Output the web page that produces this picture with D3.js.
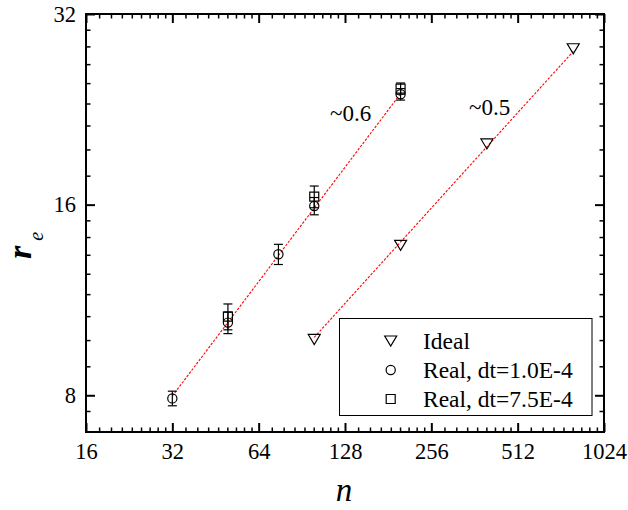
<!DOCTYPE html>
<html>
<head>
<meta charset="utf-8">
<script src="https://cdn.jsdelivr.net/npm/d3@7"></script>
<style>
  html, body { margin: 0; padding: 0; background: #fff; }
  svg { display: block; }
  svg text { font-family: "Liberation Serif", "Times New Roman", "DejaVu Serif", serif; fill: #000; }
</style>
</head>
<body>
<svg id="chart" width="628" height="510"></svg>
<script>
// Chain size n vs. end-to-end distance r_e (log2 axes)
const xTickValues = [16, 32, 64, 128, 256, 512, 1024];
const yTickValues = [8, 16, 32];

const nIdeal = [100, 200, 400, 800];
const rIdeal = [9.8, 13.8, 19.95, 28.2];

const nReal1 = [32, 50, 75, 100, 200];
const rReal1 = [7.91, 10.42, 13.36, 15.92, 23.9];
const errReal1 = [0.21, 0.41, 0.49, 0.5, 0.5];

const nReal2 = [50, 100, 200];
const rReal2 = [10.65, 16.47, 24.4];
const errReal2 = [0.5, 0.65, 0.5];

// Power-law guide lines: fixed exponent, prefactor fitted to a series
const fitExponents = [0.6, 0.5];
const fitLabels = ["~0.6", "~0.5"];

const legendNames = ["Ideal", "Real, dt=1.0E-4", "Real, dt=7.5E-4"];

const SERIF = "Liberation Serif, Times New Roman, DejaVu Serif, serif";

const svg = d3.select("#chart");
const L = 86, R = 604, T = 14, B = 432;

const x = d3.scaleLog().base(2).domain([16, 1024]).range([L, R]);
const y = d3.scaleLog().base(2).domain([7, 32]).range([B, T]);

// minor ticks: 8 evenly spaced values inside every octave
function minorTicks(lo, hi) {
  const out = [];
  for (let a = 1; a <= 2048; a *= 2) {
    for (let k = 1; k <= 8; k++) {
      const v = a + a * k / 9;
      if (v > lo && v < hi) out.push(v);
    }
  }
  return out;
}
const xMinor = minorTicks(16, 1024);
const yMinor = minorTicks(7, 32).filter(v => Math.abs(y(v) - B) > 5 && Math.abs(y(v) - T) > 5);

const fmt = d => String(d);

// axes on all four sides, ticks pointing inward
function axisGroup(axis, tx, ty) {
  const g = svg.append("g").attr("transform", `translate(${tx},${ty})`).call(axis);
  g.attr("font-family", SERIF);
  g.select(".domain").remove();
  g.selectAll("line").attr("stroke", "#000");
  return g;
}

// bottom
const gxB = axisGroup(d3.axisBottom(x).tickValues(xTickValues).tickFormat(fmt).tickSizeInner(-9).tickSizeOuter(0).tickPadding(11.5), 0, B);
gxB.selectAll("line").attr("stroke-width", 2);
gxB.selectAll("text").attr("font-size", 22.5).attr("font-family", SERIF);
const gxBm = axisGroup(d3.axisBottom(x).tickValues(xMinor).tickFormat("").tickSizeInner(-4.5).tickSizeOuter(0), 0, B);
gxBm.selectAll("line").attr("stroke-width", 1.5);

// top
const gxT = axisGroup(d3.axisTop(x).tickValues(xTickValues).tickFormat("").tickSizeInner(-9).tickSizeOuter(0), 0, T);
gxT.selectAll("line").attr("stroke-width", 2);
const gxTm = axisGroup(d3.axisTop(x).tickValues(xMinor).tickFormat("").tickSizeInner(-4.5).tickSizeOuter(0), 0, T);
gxTm.selectAll("line").attr("stroke-width", 1.5);

// left
const gyL = axisGroup(d3.axisLeft(y).tickValues(yTickValues).tickFormat(fmt).tickSizeInner(-9).tickSizeOuter(0).tickPadding(10), L, 0);
gyL.selectAll("line").attr("stroke-width", 2);
gyL.selectAll("text").attr("font-size", 22.5).attr("font-family", SERIF);
const gyLm = axisGroup(d3.axisLeft(y).tickValues(yMinor).tickFormat("").tickSizeInner(-4.5).tickSizeOuter(0), L, 0);
gyLm.selectAll("line").attr("stroke-width", 1.5);

// right
const gyR = axisGroup(d3.axisRight(y).tickValues(yTickValues).tickFormat("").tickSizeInner(-9).tickSizeOuter(0), R, 0);
gyR.selectAll("line").attr("stroke-width", 2);
const gyRm = axisGroup(d3.axisRight(y).tickValues(yMinor).tickFormat("").tickSizeInner(-4.5).tickSizeOuter(0), R, 0);
gyRm.selectAll("line").attr("stroke-width", 1.5);

// frame
svg.append("rect")
  .attr("x", L).attr("y", T).attr("width", R - L).attr("height", B - T)
  .attr("fill", "none").attr("stroke", "#000").attr("stroke-width", 2);

// fitted prefactor for a fixed exponent (least squares in log space)
function prefactor(ns, rs, p) {
  const m = d3.mean(ns.map((n, i) => Math.log(rs[i]) - p * Math.log(n)));
  return Math.exp(m);
}
const fits = [
  { p: fitExponents[0], c: prefactor(nReal1, rReal1, fitExponents[0]), n0: d3.min(nReal1), n1: d3.max(nReal1) },
  { p: fitExponents[1], c: prefactor(nIdeal, rIdeal, fitExponents[1]), n0: d3.min(nIdeal), n1: d3.max(nIdeal) }
];
const line = d3.line().x(d => x(d[0])).y(d => y(d[1]));
fits.forEach(f => {
  svg.append("path")
    .attr("d", line([[f.n0, f.c * Math.pow(f.n0, f.p)], [f.n1, f.c * Math.pow(f.n1, f.p)]]))
    .attr("fill", "none").attr("stroke", "#ff0000").attr("stroke-width", 1.1)
    .attr("stroke-dasharray", "2.5,1.5");
});

// exponent annotations
svg.append("text").attr("x", 330).attr("y", 121).attr("font-size", 23).attr("font-family", SERIF).text(fitLabels[0]);
svg.append("text").attr("x", 469).attr("y", 115).attr("font-size", 23).attr("font-family", SERIF).text(fitLabels[1]);

// symbols
const sym = {
  tri: d3.symbol().type({ draw(ctx) { ctx.moveTo(-6, -5); ctx.lineTo(6, -5); ctx.lineTo(0, 5); ctx.closePath(); } })(),
  circle: d3.symbol().type(d3.symbolCircle).size(Math.PI * 4.6 * 4.6)(),
  square: d3.symbol().type(d3.symbolSquare).size(81)()
};

function errorBars(ns, rs, es) {
  const g = svg.append("g").attr("stroke", "#000").attr("stroke-width", 1.2).attr("fill", "none");
  ns.forEach((n, i) => {
    const cx = x(n), y0 = y(rs[i] - es[i]), y1 = y(rs[i] + es[i]);
    g.append("line").attr("x1", cx).attr("x2", cx).attr("y1", y0).attr("y2", y1);
    g.append("line").attr("x1", cx - 4.5).attr("x2", cx + 4.5).attr("y1", y0).attr("y2", y0);
    g.append("line").attr("x1", cx - 4.5).attr("x2", cx + 4.5).attr("y1", y1).attr("y2", y1);
  });
}
errorBars(nReal2, rReal2, errReal2);
errorBars(nReal1, rReal1, errReal1);

function markers(ns, rs, path) {
  svg.append("g").selectAll("path").data(ns).join("path")
    .attr("d", path)
    .attr("transform", (n, i) => `translate(${x(n)},${y(rs[i])})`)
    .attr("fill", "none").attr("stroke", "#000").attr("stroke-width", 1.2);
}
markers(nIdeal, rIdeal, sym.tri);
markers(nReal2, rReal2, sym.square);
markers(nReal1, rReal1, sym.circle);

// legend
const lg = svg.append("g");
lg.append("rect").attr("x", 339.5).attr("y", 318.5).attr("width", 252.5).attr("height", 97)
  .attr("fill", "#fff").attr("stroke", "#000").attr("stroke-width", 1);
const legendSyms = [sym.tri, sym.circle, sym.square];
legendNames.forEach((name, i) => {
  const cy = 341 + i * 29;
  lg.append("path").attr("d", legendSyms[i]).attr("transform", `translate(390.7,${cy})`)
    .attr("fill", "none").attr("stroke", "#000").attr("stroke-width", 1.2);
  lg.append("text").attr("x", 423).attr("y", cy + 8).attr("font-size", 23.5).attr("font-family", SERIF).text(name);
});

// axis titles
svg.append("text").attr("x", 344).attr("y", 501).attr("text-anchor", "middle")
  .attr("font-size", 33).attr("font-style", "italic").attr("font-family", SERIF).text("n");

const yt = svg.append("text").attr("transform", "translate(30.5,259) rotate(-90)").attr("font-family", SERIF);
yt.append("tspan").attr("font-size", 34).attr("font-style", "italic").attr("font-weight", "bold").text("r");
yt.append("tspan").attr("font-size", 20).attr("font-style", "italic").attr("dx", 5).attr("dy", 12).text("e");
</script>
</body>
</html>
